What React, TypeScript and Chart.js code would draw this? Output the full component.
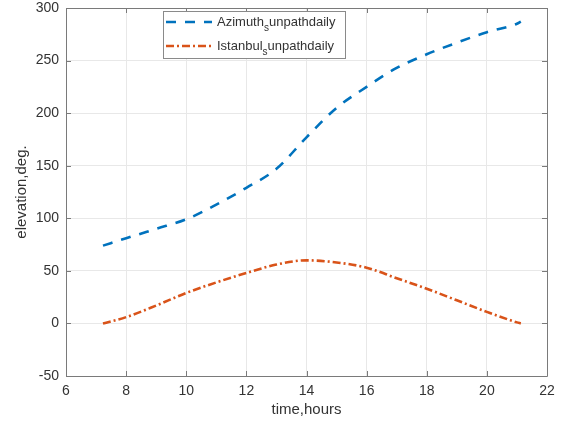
import React, { useEffect, useRef } from "react";
import { Chart, registerables } from "chart.js";

Chart.register(...registerables);

const hours = [7.23, 8, 9, 10, 11, 12, 13, 14, 15, 16, 17, 18, 19, 20, 21, 21.13];
const azimuth = [74, 81, 90, 99, 113, 129, 147, 177, 205, 225, 243, 256, 267, 277, 285, 287];
const elevation = [0, 6, 17, 29, 39, 48, 56, 60, 58, 53, 43, 33, 22, 11, 1, 0];
const xTicks = [6, 8, 10, 12, 14, 16, 18, 20, 22];
const yTicks = [-50, 0, 50, 100, 150, 200, 250, 300];
const seriesNames = ["Azimuth", "Istanbul"];
const seriesSuffix = "unpathdaily";
const seriesSub = "s";

const BLUE = "#0072BD";
const ORANGE = "#D95319";
const FONT = "'Liberation Sans', Arial, Helvetica, sans-serif";
const TEXT = "#333333";
const AXIS = "#7a7a7a";

const frame = {
  id: "frame",
  afterDraw(chart: any) {
    const { ctx, chartArea: a, scales } = chart;
    ctx.save();
    ctx.strokeStyle = AXIS;
    ctx.lineWidth = 1;
    ctx.beginPath();
    ctx.rect(Math.round(a.left) + 0.5, Math.round(a.top) + 0.5, Math.round(a.right - a.left), Math.round(a.bottom - a.top));
    ctx.stroke();
    const tl = 5;
    ctx.beginPath();
    for (const t of xTicks) {
      const x = Math.round(scales.x.getPixelForValue(t)) + 0.5;
      ctx.moveTo(x, a.bottom); ctx.lineTo(x, a.bottom - tl);
      ctx.moveTo(x, a.top); ctx.lineTo(x, a.top + tl);
    }
    for (const t of yTicks) {
      const y = Math.round(scales.y.getPixelForValue(t)) + 0.5;
      ctx.moveTo(a.left, y); ctx.lineTo(a.left + tl, y);
      ctx.moveTo(a.right, y); ctx.lineTo(a.right - tl, y);
    }
    ctx.stroke();

    // legend
    const bx = 163.5, by = 11.5, bw = 182, bh = 47;
    ctx.fillStyle = "#ffffff";
    ctx.fillRect(bx, by, bw, bh);
    ctx.strokeStyle = "#8a8a8a";
    ctx.strokeRect(bx, by, bw, bh);
    const rows = [
      { y: 22, color: BLUE, dash: [10, 9], name: seriesNames[0] },
      { y: 46, color: ORANGE, dash: [8, 3, 2, 3], name: seriesNames[1] },
    ];
    for (const r of rows) {
      ctx.strokeStyle = r.color;
      ctx.lineWidth = 2.5;
      ctx.setLineDash(r.dash);
      ctx.beginPath();
      ctx.moveTo(166, r.y);
      ctx.lineTo(212, r.y);
      ctx.stroke();
      ctx.setLineDash([]);
      ctx.fillStyle = TEXT;
      ctx.textBaseline = "alphabetic";
      ctx.textAlign = "left";
      ctx.font = `13px ${FONT}`;
      let x = 217;
      ctx.fillText(r.name, x, r.y + 4);
      x += ctx.measureText(r.name).width;
      ctx.font = `10px ${FONT}`;
      ctx.fillText(seriesSub, x, r.y + 9);
      x += ctx.measureText(seriesSub).width;
      ctx.font = `13px ${FONT}`;
      ctx.fillText(seriesSuffix, x, r.y + 4);
    }
    ctx.restore();
  },
};

export default function App() {
  const ref = useRef<HTMLCanvasElement>(null);
  useEffect(() => {
    const chart = new Chart(ref.current!, {
      type: "line",
      data: {
        datasets: [
          {
            label: seriesNames[0],
            data: hours.map((h, i) => ({ x: h, y: azimuth[i] })),
            borderColor: BLUE,
            borderWidth: 2.6,
            borderDash: [10, 9],
            pointRadius: 0,
            cubicInterpolationMode: "monotone",
            fill: false,
          },
          {
            label: seriesNames[1],
            data: hours.map((h, i) => ({ x: h, y: elevation[i] })),
            borderColor: ORANGE,
            borderWidth: 2.6,
            borderDash: [8, 3, 2, 3],
            pointRadius: 0,
            cubicInterpolationMode: "monotone",
            fill: false,
          },
        ],
      },
      options: {
        responsive: false,
        animation: false,
        layout: { padding: { left: 0, right: 20, top: 8, bottom: 0 } },
        plugins: { legend: { display: false }, tooltip: { enabled: false } },
        scales: {
          x: {
            type: "linear",
            min: 6,
            max: 22,
            afterBuildTicks: (s: any) => { s.ticks = xTicks.map((v) => ({ value: v })); },
            afterFit: (s: any) => { s.height = 47; s.paddingLeft = 0; s.paddingRight = 0; },
            ticks: { color: TEXT, font: { family: FONT, size: 14 }, padding: 7, maxRotation: 0 },
            grid: { color: "#e8e8e8", drawTicks: false },
            border: { display: false },
            title: { display: true, text: "time,hours", color: TEXT, font: { family: FONT, size: 15 }, padding: { top: 0, bottom: 4 } },
          },
          y: {
            type: "linear",
            min: -50,
            max: 300,
            afterBuildTicks: (s: any) => { s.ticks = yTicks.map((v) => ({ value: v })); },
            afterFit: (s: any) => { s.width = 66; s.paddingTop = 0; s.paddingBottom = 0; },
            ticks: { color: TEXT, font: { family: FONT, size: 14 }, padding: 7 },
            grid: { color: "#e8e8e8", drawTicks: false },
            border: { display: false },
            title: { display: true, text: "elevation,deg.", color: TEXT, font: { family: FONT, size: 15 }, padding: { top: 13, bottom: 0 } },
          },
        },
      },
      plugins: [frame],
    } as any);
    return () => chart.destroy();
  }, []);
  return (
    <div style={{ position: "fixed", left: 0, top: 0, width: 567, height: 423, background: "#fff" }}>
      <canvas ref={ref} width={567} height={423} />
    </div>
  );
}
